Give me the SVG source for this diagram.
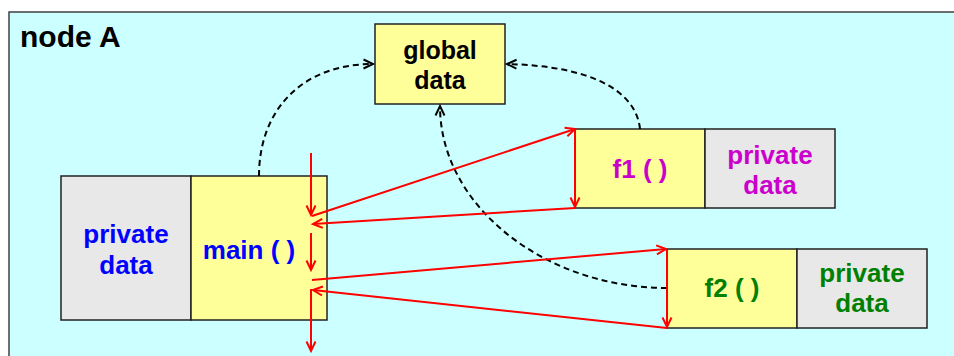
<svg xmlns="http://www.w3.org/2000/svg" width="954" height="356" viewBox="0 0 954 356">
<defs>
<style>
.frame{fill:#CCFFFF;stroke:#404040;stroke-width:1.5}
.fn{fill:#FFFF99;stroke:#222;stroke-width:1.5}
.priv{fill:#E8E8E8;stroke:#222;stroke-width:1.5}
text{font-family:"Liberation Sans",Arial,sans-serif;font-weight:bold;font-size:26px;text-anchor:middle}
.red{fill:none;stroke:#FF0000;stroke-width:2;marker-end:url(#ra)}
.dash{fill:none;stroke:#000;stroke-width:2;stroke-dasharray:6 4;marker-end:url(#ba)}
</style>
<marker id="ra" viewBox="0 0 10 10" refX="9.5" refY="5" markerWidth="10" markerHeight="10" markerUnits="userSpaceOnUse" orient="auto" overflow="visible">
<path d="M0,0.5 L9.5,5 L0,9.5" fill="none" stroke="#FF0000" stroke-width="2"/>
</marker>
<marker id="ba" viewBox="0 0 10 10" refX="9.5" refY="5" markerWidth="10" markerHeight="10" markerUnits="userSpaceOnUse" orient="auto" overflow="visible">
<path d="M0,0.5 L9.5,5 L0,9.5" fill="none" stroke="#000" stroke-width="2" stroke-dasharray="none"/>
</marker>
</defs>
<g id="nodeA">
<rect class="frame" x="9" y="12" width="970" height="370"/>
<text x="20" y="47" style="text-anchor:start;font-size:30px">node A</text>
</g>
<g id="global">
<rect class="fn" x="375" y="24" width="130" height="80"/>
<text x="440" y="59" style="font-size:25px">global</text>
<text x="440" y="89" style="font-size:25px">data</text>
</g>
<g id="mainPrivate">
<rect class="priv" x="61" y="176" width="130" height="144"/>
<text x="126" y="243" fill="#0000FF">private</text>
<text x="126" y="274" fill="#0000FF">data</text>
</g>
<g id="main">
<rect class="fn" x="191" y="176" width="136" height="144"/>
<text x="249" y="259" fill="#0000FF">main ( )</text>
</g>
<g id="f1">
<rect class="fn" x="575" y="129" width="130" height="79"/>
<text x="640" y="178" fill="#CC00CC">f1 ( )</text>
</g>
<g id="f1Private">
<rect class="priv" x="705" y="129" width="130" height="79"/>
<text x="770" y="164" fill="#CC00CC">private</text>
<text x="770" y="194" fill="#CC00CC">data</text>
</g>
<g id="f2">
<rect class="fn" x="667" y="249" width="130" height="79"/>
<text x="732" y="297" fill="#008000">f2 ( )</text>
</g>
<g id="f2Private">
<rect class="priv" x="797" y="249" width="130" height="79"/>
<text x="862" y="282" fill="#008000">private</text>
<text x="862" y="312" fill="#008000">data</text>
</g>
<g id="connectors">
<path class="dash" d="M259,176 C259,110 302,64 373,64"/>
<path class="dash" d="M640,129 C636,90 590,66 507,64"/>
<path class="dash" d="M667,288 C545,288 440,206 440,106"/>
<path class="red" d="M311,153 L311,215"/>
<path class="red" d="M312,216 L575,129"/>
<path class="red" d="M575,130 L575,207"/>
<path class="red" d="M575,208 L313,224"/>
<path class="red" d="M311,233 L311,270"/>
<path class="red" d="M312,280 L666,249"/>
<path class="red" d="M667,250 L667,327"/>
<path class="red" d="M667,328 L313,290"/>
<path class="red" d="M311,289 L311,351"/>
</g>
</svg>
